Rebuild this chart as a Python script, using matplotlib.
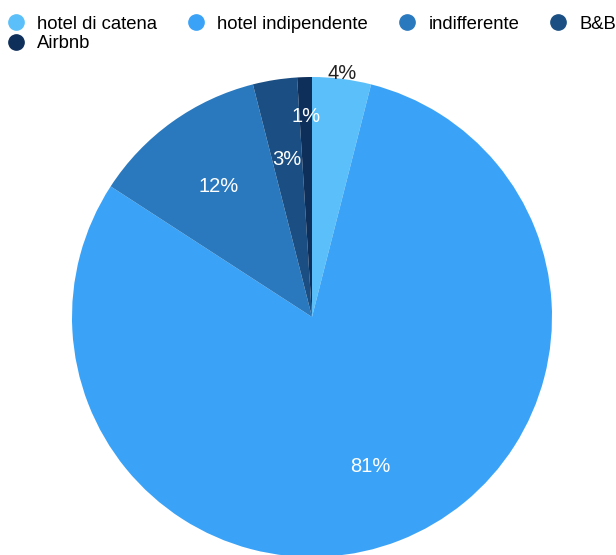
import numpy as np
import matplotlib.pyplot as plt
from matplotlib.lines import Line2D

plt.rcParams['font.family'] = ['Liberation Sans', 'DejaVu Sans']

categorie = ['hotel di catena', 'hotel indipendente', 'indifferente', 'B&B', 'Airbnb']
percentuali = [4, 81, 12, 3, 1]
colori = ['#5BC0F9', '#3AA3F7', '#2A79BF', '#1B4F83', '#0F2F5B']

fig = plt.figure(figsize=(6.16, 5.55), dpi=100)
ax = fig.add_axes([72/616, -2/555, 480/616, 480/555])

wedges, _ = ax.pie(percentuali, colors=colori, startangle=90, counterclock=False,
                   radius=1.0, wedgeprops=dict(linewidth=0))
ax.set_xlim(-1, 1)
ax.set_ylim(-1, 1)

# etichette: le fette piccole vanno spinte verso il bordo
raggi = [1.022, 0.67, 0.67, 0.665, 0.834]
col_testo = ['#222222', 'white', 'white', 'white', 'white']
for w, v, r, c in zip(wedges, percentuali, raggi, col_testo):
    ang = np.deg2rad((w.theta1 + w.theta2) / 2)
    ax.text(r*np.cos(ang), r*np.sin(ang), f'{v}%', ha='center', va='center',
            fontsize=14.5, color=c)

handles = [Line2D([], [], marker='o', linestyle='none', markersize=11,
                  markerfacecolor=c, markeredgecolor=c) for c in colori]
ordine = [0, 4, 1, 2, 3]
fig.legend([handles[i] for i in ordine], [categorie[i] for i in ordine],
           loc='upper left', bbox_to_anchor=(0.011, 0.972), ncol=4, frameon=False,
           fontsize=13.3, handlelength=1.0, handletextpad=0.64, columnspacing=1.62,
           labelspacing=0.15, borderaxespad=0, borderpad=0)

plt.savefig('out.png', dpi=100)
